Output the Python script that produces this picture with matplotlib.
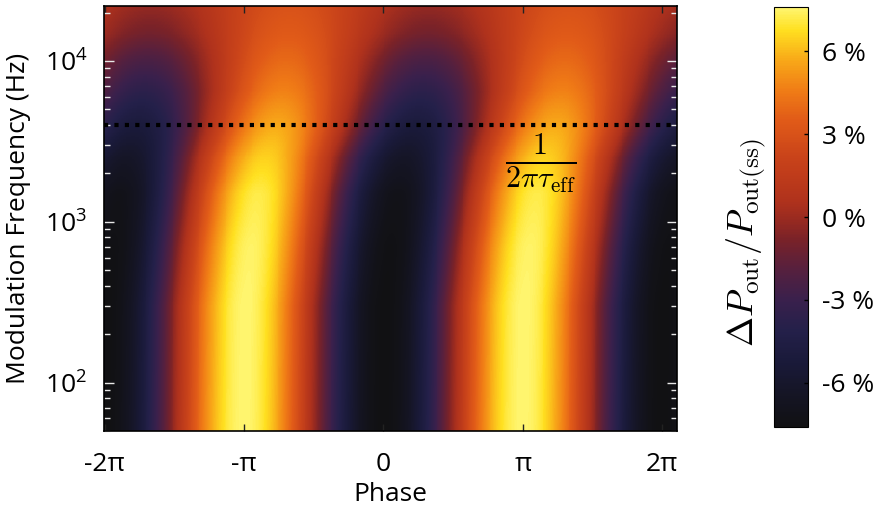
import numpy as np
import matplotlib
matplotlib.use("Agg")
import matplotlib.pyplot as plt
from matplotlib.colors import LinearSegmentedColormap

# rows of the map: modulation frequency (Hz),
# swing amplitude (%), phase lag (units of pi) and mean offset (%)
freqs = [50, 300, 700, 1500, 2500, 4000, 6500, 10000, 15000, 22000]
amplitude = [7.6, 7.6, 7.5, 7.2, 6.4, 5.4, 4.2, 3.2, 2.2, 1.6]
lag_pi = [0.0, 0.01, 0.05, 0.10, 0.15, 0.23, 0.28, 0.30, 0.32, 0.33]
offset = [0.0, 0.0, 0.0, 0.0, 0.1, 0.3, 0.5, 0.8, 1.2, 1.4]

cutoff_hz = 4000
phase_ticks = [-2 * np.pi, -np.pi, 0, np.pi, 2 * np.pi]
phase_labels = ["-2\u03c0", "-\u03c0", "0", "\u03c0", "2\u03c0"]
cbar_ticks = [6, 3, 0, -3, -6]
cbar_labels = ["6 %", "3 %", "0 %", "-3 %", "-6 %"]

# colour map sampled from the colour bar (value in %, colour)
cmap_stops = [(-7.6, "#111113"), (-6.6, "#141422"), (-5.2, "#1a1a3a"),
              (-4.1, "#24204a"), (-3.0, "#3a204c"), (-1.9, "#56203e"),
              (-0.8, "#7a2228"), (-0.1, "#982a20"), (0.6, "#b0321c"),
              (2.1, "#c8421a"), (3.5, "#e05a18"), (4.6, "#f07c16"),
              (5.7, "#f8a818"), (6.8, "#ffe020"), (7.6, "#fff56e")]
vmin, vmax = -7.6, 7.6
cmap = LinearSegmentedColormap.from_list(
    "pout", [((v - vmin) / (vmax - vmin), c) for v, c in cmap_stops])

plt.rcParams["font.family"] = ["Open Sans", "DejaVu Sans"]
plt.rcParams["mathtext.fontset"] = "cm"
plt.rcParams["font.size"] = 19

# smooth the row parameters over log frequency, then sweep the phase
phase = np.linspace(-2 * np.pi - 0.05, 2 * np.pi + 0.4, 600)
logf = np.linspace(np.log10(freqs[0]), np.log10(freqs[-1]), 300)
lf_rows = np.log10(freqs)
amp_f = np.interp(logf, lf_rows, amplitude)
lag_f = np.interp(logf, lf_rows, lag_pi) * np.pi
off_f = np.interp(logf, lf_rows, offset)
Z = off_f[:, None] - amp_f[:, None] * np.cos(phase[None, :] - lag_f[:, None])

fig = plt.figure(figsize=(8.76, 5.17), dpi=100)
ax = fig.add_axes([0.1187, 0.1663, 0.6543, 0.8221])
mesh = ax.pcolormesh(phase, 10 ** logf, Z, shading="nearest", cmap=cmap,
                     vmin=vmin, vmax=vmax, rasterized=True)
ax.set_yscale("log")
ax.set_ylim(50, 22000)
ax.set_xlim(-2 * np.pi - 0.02, 2 * np.pi + 0.34)

ax.axhline(cutoff_hz, color="k", lw=3, ls=(0, (1, 1.5)))
ax.text(1.13 * np.pi, 2300, r"$\frac{1}{2\pi\tau_{\rm eff}}$",
        ha="center", va="center", fontsize=31)

ax.set_xticks(phase_ticks)
ax.set_xticklabels(phase_labels)
ax.set_yticks([100, 1000, 10000])
ax.set_yticklabels([r"$\mathregular{10^{2}}$", r"$\mathregular{10^{3}}$",
                    r"$\mathregular{10^{4}}$"])
ax.tick_params(axis="x", direction="in", top=True, length=5, width=1,
               color="#222222", pad=15)
ax.tick_params(axis="y", which="both", direction="in", right=True,
               color="#e8e8e8", width=1, pad=12)
ax.tick_params(axis="y", which="major", length=7)
ax.tick_params(axis="y", which="minor", length=4)
for s in ax.spines.values():
    s.set_linewidth(1.2)

ax.set_xlabel("Phase", labelpad=4)
ax.set_ylabel("Modulation Frequency (Hz)", labelpad=10)

cax = fig.add_axes([0.8836, 0.174, 0.0388, 0.812])
cb = fig.colorbar(mesh, cax=cax)
cb.set_ticks(cbar_ticks)
cb.set_ticklabels(cbar_labels)
cb.ax.tick_params(direction="in", length=3, width=1, pad=10)
cb.outline.set_linewidth(0.8)
fig.text(746 / 876, 1 - 243 / 517,
         r"$\Delta P_{\rm out}/P_{\rm out(ss)}$",
         rotation=90, ha="center", va="center", fontsize=26)

fig.savefig("out.png", dpi=100)
